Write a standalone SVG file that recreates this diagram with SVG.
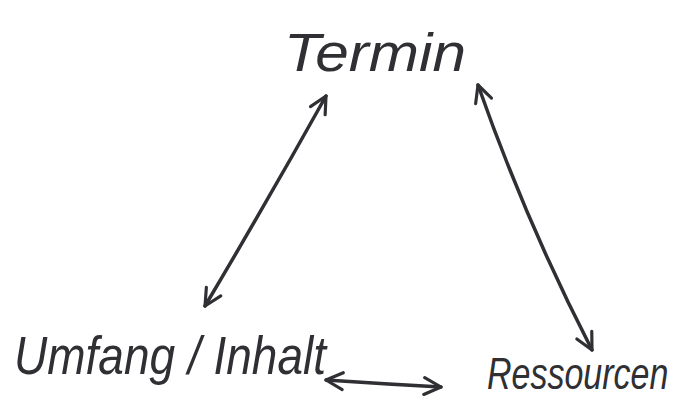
<svg xmlns="http://www.w3.org/2000/svg" width="676" height="401" viewBox="0 0 676 401">
<style>
.lbl{font-family:"Liberation Sans",Arial,sans-serif;font-style:italic;fill:#2f2f34;}
.con{fill:none;stroke:#2f2f34;stroke-width:3.5;stroke-linecap:round;stroke-linejoin:round;}
</style>
<defs>
<marker id="ah" viewBox="0 0 20 20" refX="18" refY="10" markerWidth="6" markerHeight="6" markerUnits="strokeWidth" orient="auto-start-reverse">
<path d="M2,2 L18,10 L2,18" fill="none" stroke="#2f2f34" stroke-width="3" stroke-linecap="round" stroke-linejoin="round"/>
</marker>
</defs>
<rect width="676" height="401" fill="#ffffff"/>
<g id="connectors">
<path class="con" d="M326,96 Q268,200 205,306" marker-start="url(#ah)" marker-end="url(#ah)"/>
<path class="con" d="M478,85 Q526,222 592,350" marker-start="url(#ah)" marker-end="url(#ah)"/>
<path class="con" d="M326,380 Q385,384 441,387" marker-start="url(#ah)" marker-end="url(#ah)"/>
</g>
<g id="termin">
<text class="lbl" x="284" y="71" font-size="54" textLength="182" lengthAdjust="spacingAndGlyphs">Termin</text>
</g>
<g id="umfang">
<text class="lbl" x="14" y="374" font-size="54" textLength="312" lengthAdjust="spacingAndGlyphs">Umfang / Inhalt</text>
</g>
<g id="ressourcen">
<text class="lbl" x="0" y="0" font-size="34" transform="translate(487,389) scale(1,1.3)">Ressourcen</text>
</g>
</svg>
